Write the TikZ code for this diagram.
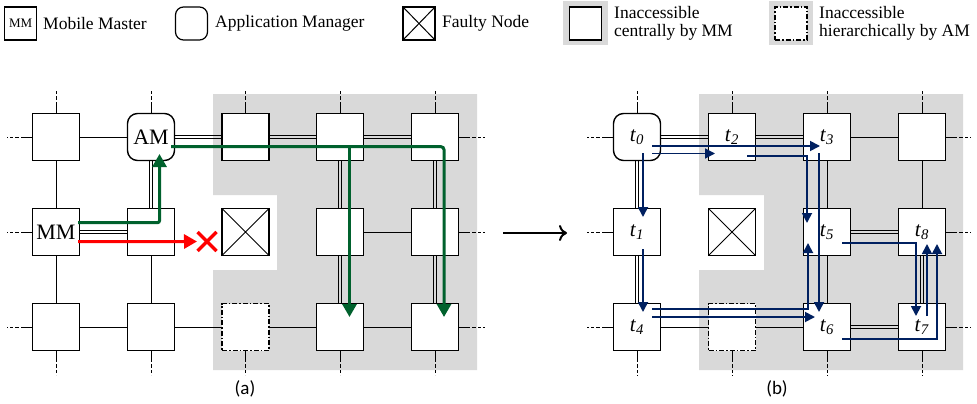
\documentclass[tikz,border=0pt]{standalone}
\usepackage{fontspec}
\setmainfont{Liberation Serif}
\newfontfamily\capfont{Carlito}
\usetikzlibrary{arrows.meta}
\definecolor{grayreg}{RGB}{217,217,217}
\definecolor{gpath}{RGB}{0,97,45}
\definecolor{bpath}{RGB}{0,32,96}
\newcommand\tlab[1]{\textit{t}\textsubscript{\textit{#1}}}
\newcommand\myhd[2]{\draw[lnk] ([yshift=1.5pt]#1.east) -- ([yshift=1.5pt]#2.west); \draw[lnk] ([yshift=-1.5pt]#1.east) -- ([yshift=-1.5pt]#2.west);}
\newcommand\myvd[2]{\draw[lnk] ([xshift=1.5pt]#1.south) -- ([xshift=1.5pt]#2.north); \draw[lnk] ([xshift=-1.5pt]#1.south) -- ([xshift=-1.5pt]#2.north);}
\tikzset{
  nd/.style={draw, line width=1.4pt, fill=white, minimum size=47pt, inner sep=0pt, font=\fontsize{22}{24}\selectfont},
  amnd/.style={nd, rounded corners=10pt},
  fnd/.style={nd, path picture={\draw[line width=1pt] (path picture bounding box.north west) -- (path picture bounding box.south east) (path picture bounding box.north east) -- (path picture bounding box.south west);}},
  dnd/.style={nd, dash pattern=on 5pt off 2pt on 1.5pt off 2pt},
  tnd/.style={font=\fontsize{21}{23}\selectfont},
  lnk/.style={line width=1pt},
  stub/.style={line width=1pt, dash pattern=on 11pt off 2pt on 4pt off 2pt on 3pt off 2pt on 3pt off 10pt},
  lgbox/.style={draw, line width=1.2pt, fill=white, minimum width=32pt, minimum height=33pt, inner sep=0pt},
  lgtxt/.style={anchor=west, font=\fontsize{17.5}{17.5}\selectfont, align=left, inner sep=0pt},
  gline/.style={draw=gpath, line width=3pt, -{Triangle[length=13pt,width=14pt]}},
  bline/.style={draw=bpath, line width=1.8pt, -{Triangle[length=10pt,width=10pt]}},
  rline/.style={draw=red, line width=3pt},
}
\begin{document}
\begin{tikzpicture}[x=1pt,y=-1pt]
\useasboundingbox (0,0) rectangle (977,404);
% gray regions
\fill[grayreg] (213,94) -- (477,94) -- (477,370) -- (213,370) -- (213,270) -- (277,270) -- (277,195) -- (213,195) -- cycle;
\fill[grayreg] (699,94) -- (963,94) -- (963,370) -- (699,370) -- (699,270) -- (764,270) -- (764,195) -- (699,195) -- cycle;

% legend
\node[lgbox, font=\fontsize{13}{13}\selectfont] (lmm) at (20.7,23.5) {MM};
\node[lgtxt] (lmmt) at (43,23.5) {Mobile Master};
\node[lgbox, rounded corners=8pt] (lam) at (191.5,23.5) {};
\node[lgtxt] (lamt) at (215,23.5) {Application Manager};
\node[lgbox, path picture={\draw[line width=1pt] (path picture bounding box.north west) -- (path picture bounding box.south east) (path picture bounding box.north east) -- (path picture bounding box.south west);}] (lfn) at (419,23.5) {};
\node[lgtxt] (lfnt) at (442,23.5) {Faulty Node};
\fill[grayreg] (563,1.5) rectangle (608,45.5);
\node[lgbox] (lic) at (585.5,23.5) {};
\node[lgtxt] (lict) at (614,23.5) {Inaccessible\\centrally by MM};
\fill[grayreg] (769,1.5) rectangle (813,45.5);
\node[lgbox, dash pattern=on 5pt off 2pt on 1.5pt off 2pt] (lih) at (791,23.5) {};
\node[lgtxt] (liht) at (819,23.5) {Inaccessible\\hierarchically by AM};

% left grid nodes
\node[nd] (a11) at (56,137) {};
\node[amnd] (a12) at (151,137) {AM};
\node[nd] (a13) at (245.5,137) {};
\node[nd] (a14) at (340,137) {};
\node[nd] (a15) at (435,137) {};
\node[nd] (a21) at (56,232) {MM};
\node[nd] (a22) at (151,232) {};
\node[fnd] (a23) at (245.5,232) {};
\node[nd] (a24) at (340,232) {};
\node[nd] (a25) at (435,232) {};
\node[nd] (a31) at (56,327) {};
\node[nd] (a32) at (151,327) {};
\node[dnd] (a33) at (245.5,327) {};
\node[nd] (a34) at (340,327) {};
\node[nd] (a35) at (435,327) {};

% left edges
\draw[lnk] (a11) -- (a12);
\draw[lnk] (a24) -- (a25);
\draw[lnk] (a31) -- (a32);
\draw[lnk] (a32) -- (a33);
\draw[lnk] (a33) -- (a34);
\draw[lnk] (a34) -- (a35);
\draw[lnk] (a11) -- (a21);
\draw[lnk] (a21) -- (a31);
\draw[lnk] (a22) -- (a32);
\myhd{a12}{a13}
\myhd{a13}{a14}
\myhd{a14}{a15}
\myhd{a21}{a22}
\myvd{a12}{a22}
\myvd{a14}{a24}
\myvd{a24}{a34}
\myvd{a15}{a25}
\myvd{a25}{a35}
\foreach \n in {a11,a12,a13,a14,a15}{\draw[stub] (\n.north) -- ++(0,-23);}
\foreach \n in {a31,a32,a33,a34,a35}{\draw[stub] (\n.south) -- ++(0,24);}
\foreach \n in {a11,a21,a31}{\draw[stub] (\n.west) -- ++(-25,0);}
\foreach \n in {a15,a25,a35}{\draw[stub] (\n.east) -- ++(26,0);}

% right grid nodes
\node[amnd,tnd] (b11) at (637,137) {\tlab{0}};
\node[nd,tnd] (b12) at (732,137) {\tlab{2}};
\node[nd,tnd] (b13) at (827,137) {\tlab{3}};
\node[nd] (b14) at (922,137) {};
\node[nd,tnd] (b21) at (637,232) {\tlab{1}};
\node[fnd] (b22) at (732,232) {};
\node[nd,tnd] (b23) at (827,232) {\tlab{5}};
\node[nd,tnd] (b24) at (922,232) {\tlab{8}};
\node[nd,tnd] (b31) at (637,327) {\tlab{4}};
\node[dnd] (b32) at (732,327) {};
\node[nd,tnd] (b33) at (827,327) {\tlab{6}};
\node[nd,tnd] (b34) at (922,327) {\tlab{7}};

% right edges
\draw[lnk] (b13) -- (b14);
\draw[lnk] (b31) -- (b32);
\draw[lnk] (b32) -- (b33);
\draw[lnk] (b13) -- (b23);
\draw[lnk] (b23) -- (b33);
\draw[lnk] (b14) -- (b24);
\myhd{b11}{b12}
\myhd{b12}{b13}
\myhd{b23}{b24}
\myhd{b33}{b34}
\myvd{b11}{b21}
\myvd{b21}{b31}
\myvd{b24}{b34}
\foreach \n in {b11,b12,b13,b14}{\draw[stub] (\n.north) -- ++(0,-23);}
\foreach \n in {b31,b32,b33,b34}{\draw[stub] (\n.south) -- ++(0,25);}
\foreach \n in {b11,b21,b31}{\draw[stub] (\n.west) -- ++(-26,0);}
\foreach \n in {b14,b24,b34}{\draw[stub] (\n.east) -- ++(25,0);}

% green paths (a)
\coordinate (g1s) at ([xshift=-2pt,yshift=9.3pt]a21.east);
\coordinate (g1t) at ([xshift=8.5pt,yshift=-17pt]a12.center);
\draw[gline, rounded corners=2pt] (g1s) -| (g1t);
\coordinate (g2s) at ([xshift=-4pt,yshift=-9.7pt]a12.east);
\coordinate (g5t) at ([xshift=9pt,yshift=10pt]a35.center);
\coordinate (g4b) at ([xshift=9.5pt,yshift=-9.7pt]a14.center);
\coordinate (g4t) at ([xshift=9.5pt,yshift=10pt]a34.center);
\draw[gline, rounded corners=3pt] (g2s) -| (g5t);
\draw[gline] (g4b) -- (g4t);

% red failed path
\coordinate (rs) at ([xshift=-2pt,yshift=-9.7pt]a21.east);
\coordinate (rx) at (207,241.5);
\coordinate (rt) at ([xshift=-10pt]rx);
\draw[rline, -{Triangle[length=13pt,width=14pt]}] (rs) -- (rt);
\draw[rline, line width=3.5pt] ([shift={(-9.5pt,-9.5pt)}]rx) -- ([shift={(9.5pt,9.5pt)}]rx);
\draw[rline, line width=3.5pt] ([shift={(-9.5pt,9.5pt)}]rx) -- ([shift={(9.5pt,-9.5pt)}]rx);

% blue paths (b)
\draw[bline] ([xshift=6pt,yshift=-16pt]b11.center) -- ([xshift=6pt,yshift=15pt]b21.center);
\draw[bline] ([xshift=15pt,yshift=-16.5pt]b11.center) -- ([xshift=-17pt,yshift=-16.5pt]b12.center);
\draw[bline] ([xshift=15pt,yshift=-9pt]b11.center) -- ([xshift=-7pt,yshift=-9pt]b13.center);
\draw[bline] ([xshift=15pt,yshift=-18.7pt]b12.center) -| ([xshift=-20pt,yshift=9pt]b23.center);
\draw[bline] ([xshift=-8pt,yshift=-16pt]b13.center) -- ([xshift=-8pt,yshift=15pt]b33.center);
\draw[bline] ([xshift=15pt,yshift=18pt]b31.center) -| ([xshift=-19pt,yshift=-11pt]b23.center);
\draw[bline] ([xshift=15pt,yshift=10pt]b31.center) -- ([xshift=-12pt,yshift=10pt]b33.center);
\draw[bline] ([xshift=6pt,yshift=-17pt]b21.center) -- ([xshift=6pt,yshift=15pt]b31.center);
\draw[bline] ([xshift=15pt,yshift=-11pt]b23.center) -| ([xshift=-6pt,yshift=11pt]b34.center);
\draw[bline] ([xshift=5pt,yshift=11pt]b34.center) -- ([xshift=5pt,yshift=-12pt]b24.center);
\draw[bline] ([xshift=15pt,yshift=-12pt]b33.center) -| ([xshift=15pt,yshift=-12pt]b24.center);

% middle arrow
\coordinate (ms) at (503,233);
\coordinate (me) at (567,233);
\draw[line width=2pt, -{Computer Modern Rightarrow[length=8pt,width=16pt]}] (ms) -- (me);

% captions
\node[font=\capfont\fontsize{19}{19}\selectfont] (capa) at (245,389) {(a)};
\node[font=\capfont\fontsize{19}{19}\selectfont] (capb) at (777,389) {(b)};
\end{tikzpicture}
\end{document}
